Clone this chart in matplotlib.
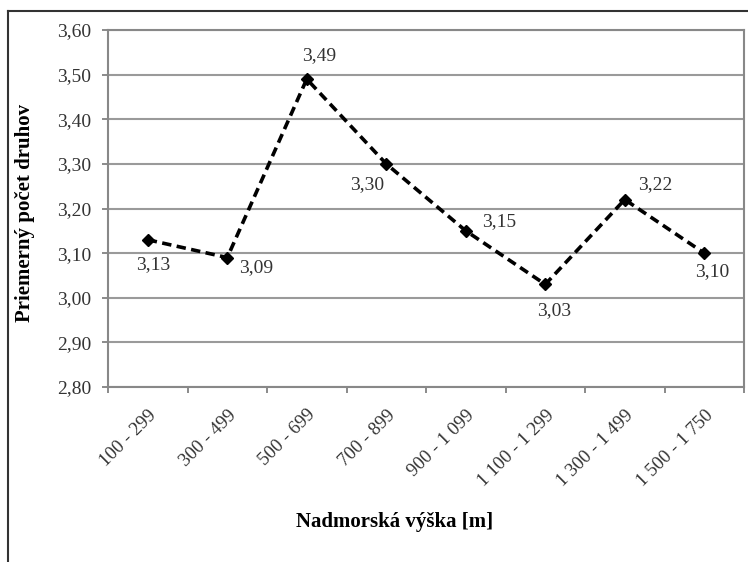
import matplotlib
matplotlib.use("Agg")
import matplotlib.pyplot as plt
from matplotlib.lines import Line2D

categories = ["100 - 299", "300 - 499", "500 - 699", "700 - 899",
              "900 - 1 099", "1 100 - 1 299", "1 300 - 1 499", "1 500 - 1 750"]
mean_species = [3.13, 3.09, 3.49, 3.30, 3.15, 3.03, 3.22, 3.10]
y_ticks = [2.80, 2.90, 3.00, 3.10, 3.20, 3.30, 3.40, 3.50, 3.60]

# label offsets in points (dx, dy) for each value
label_offsets = [(4, -18), (21, -7), (9, 17), (-14, -15),
                 (24, 6.5), (6.5, -19), (22, 11), (6, -13)]


def fmt(v):
    return f"{v:.2f}".replace(".", ",")


plt.rcParams["font.family"] = ["Liberation Serif", "DejaVu Serif"]

fig = plt.figure(figsize=(7.48, 5.62), dpi=100)
ax = fig.add_axes([108 / 748, 175 / 562, 636 / 748, 357 / 562])

x = list(range(len(categories)))
ax.plot(x, mean_species, color="black", linestyle=(0, (2.6, 1.5)), linewidth=2.6,
        marker="D", markersize=6.5, markerfacecolor="black", markeredgecolor="black",
        zorder=3)

for xi, v, off in zip(x, mean_species, label_offsets):
    ax.annotate(fmt(v), (xi, v), xytext=off, textcoords="offset points",
                ha="center", va="center", fontsize=14, color="#333333")

ax.set_xlim(-0.5, len(categories) - 0.5)
ax.set_ylim(y_ticks[0], y_ticks[-1])
ax.set_yticks(y_ticks)
ax.set_yticklabels([fmt(t) for t in y_ticks], fontsize=14, color="#333333")
ax.yaxis.grid(True, color="#9a9a9a", linewidth=1.5)
ax.set_axisbelow(True)

# category labels centred, ticks between categories
ax.set_xticks(x)
ax.set_xticklabels(categories, rotation=45, ha="right", rotation_mode="anchor",
                   fontsize=13.5, color="#333333")
ax.tick_params(axis="x", length=0, pad=14)
ax.set_xticks([i + 0.5 for i in range(-1, len(categories))], minor=True)
ax.tick_params(axis="x", which="minor", length=4, color="#777777", width=1.2)
ax.tick_params(axis="y", length=4, color="#777777", width=1.2, pad=8)

for s in ax.spines.values():
    s.set_color("#888888")
    s.set_linewidth(1.5)

ax.set_ylabel("Priemerný počet druhov", fontsize=15, fontweight="bold")
ax.yaxis.set_label_coords(-(108 - 35) / 636, (387 - 213) / 357)
ax.set_xlabel("Nadmorská výška [m]", fontsize=15, fontweight="bold")
ax.xaxis.set_label_coords((395 - 108) / 636, -(512 - 387) / 357)

# outer frame on left and top edges
fig.add_artist(Line2D([8 / 748, 8 / 748], [0, 1 - 11 / 562],
                      transform=fig.transFigure, color="#333333", linewidth=1.5))
fig.add_artist(Line2D([8 / 748, 1], [1 - 11 / 562, 1 - 11 / 562],
                      transform=fig.transFigure, color="#333333", linewidth=1.5))

fig.savefig("out.png", dpi=100)
